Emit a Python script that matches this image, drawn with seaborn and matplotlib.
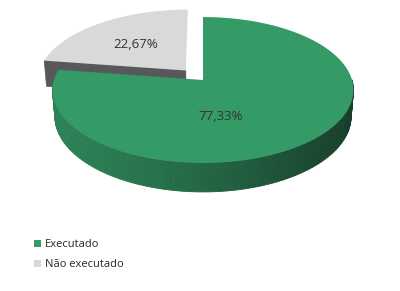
import numpy as np
import matplotlib
matplotlib.use("Agg")
import matplotlib.pyplot as plt
import seaborn as sns
from matplotlib.patches import Polygon, Patch

# ---- data ----
categories = ["Executado", "Não executado"]
values = [77.33, 22.67]
value_labels = ["77,33%", "22,67%"]

sns.set_theme(style="white")
plt.rcParams['font.family'] = ['Open Sans', 'DejaVu Sans']

top_colors = sns.color_palette(["#349a66", "#d9d9d9"])
side_left = [np.array([44, 130, 86]) / 255, np.array([88, 88, 90]) / 255]
side_right = [np.array([24, 62, 42]) / 255, np.array([88, 88, 90]) / 255]
explode = [0.0, 0.18]

# 3D view (style): elevation, camera distance, focal, thickness, screen origin
PHI = np.deg2rad(28.7)
DIST = 6.41
FOC = 955.0
THICK = 0.205
OX, OY = 203.0, 80.0
label_pos = [(221, 117), (136, 45)]

fig = plt.figure(figsize=(4, 2.91), dpi=100)
ax = fig.add_axes([0, 0, 1, 1])
ax.set_xlim(0, 400)
ax.set_ylim(291, 0)
ax.axis('off')


def proj(x, y, z):
    yup = z * np.cos(PHI) + y * np.sin(PHI)
    zz = y * np.cos(PHI) - z * np.sin(PHI) + DIST
    return np.array([OX + FOC * x / zz, OY - FOC * yup / zz])


total = float(sum(values))
cum = np.concatenate([[0], np.cumsum(values)])
thetas = [(90 - cum[i] * 360 / total, 90 - cum[i + 1] * 360 / total) for i in range(len(values))]


def draw_slice(i, zbase):
    t1, t2 = thetas[i]
    mid = np.deg2rad(0.5 * (t1 + t2))
    ex, ey = explode[i] * np.cos(mid), explode[i] * np.sin(mid)

    def P(th, z, r=1.0):
        a = np.deg2rad(th)
        return proj(ex + r * np.cos(a), ey + r * np.sin(a), z)

    apex_t, apex_b = P(0, 0, 0), P(0, -THICK, 0)
    # radial faces facing the viewer
    for th, sgn in ((t1, 1), (t2, -1)):
        nrm = np.deg2rad(th + 90 * sgn)
        if np.sin(nrm) < -0.05:
            quad = [apex_t, P(th, 0), P(th, -THICK), apex_b]
            ax.add_patch(Polygon(quad, closed=True, facecolor=side_left[i],
                                 edgecolor=side_left[i], lw=0.5, zorder=zbase))
    # outer curved side (front half)
    lo, hi = min(t1, t2), max(t1, t2)
    ths = np.linspace(lo, hi, int((hi - lo) / 1.5) + 2)
    xmin, xmax = OX - 150, OX + 150
    for k in range(len(ths) - 1):
        a0, a1 = ths[k], ths[k + 1]
        if np.sin(np.deg2rad(0.5 * (a0 + a1))) >= 0:
            continue
        p0, p1 = P(a0, 0), P(a1, 0)
        q0, q1 = P(a0, -THICK), P(a1, -THICK)
        f = np.clip((0.5 * (p0[0] + p1[0]) - xmin) / (xmax - xmin), 0, 1) ** 1.3
        col = side_left[i] * (1 - f) + side_right[i] * f
        ax.add_patch(Polygon([p0, p1, q1, q0], closed=True, facecolor=col,
                             edgecolor=col, lw=0.6, zorder=zbase))
    # top face
    arc = np.array([P(th, 0) for th in np.linspace(t1, t2, 240)])
    ax.add_patch(Polygon(np.vstack([apex_t, arc]), closed=True, facecolor=top_colors[i],
                         edgecolor='none', zorder=zbase + 1))
    ax.text(label_pos[i][0], label_pos[i][1], value_labels[i], ha='center', va='center',
            fontsize=9.5, color='#333333', zorder=20)


# draw exploded (back) slice first
order = sorted(range(len(values)), key=lambda j: -explode[j])
for n, i in enumerate(order):
    draw_slice(i, 2 + 2 * n)

handles = [Patch(facecolor=top_colors[i], edgecolor='none') for i in range(len(values))]
ax.legend(handles, categories, loc='center left', bbox_to_anchor=(34 / 400, 1 - 254.5 / 291),
          bbox_transform=fig.transFigure, frameon=False, fontsize=8, borderpad=0,
          borderaxespad=0, handlelength=0.6, handleheight=0.6, handletextpad=0.4,
          labelspacing=0.8, labelcolor='#262626')

fig.savefig("out.png", dpi=100, facecolor='white')
